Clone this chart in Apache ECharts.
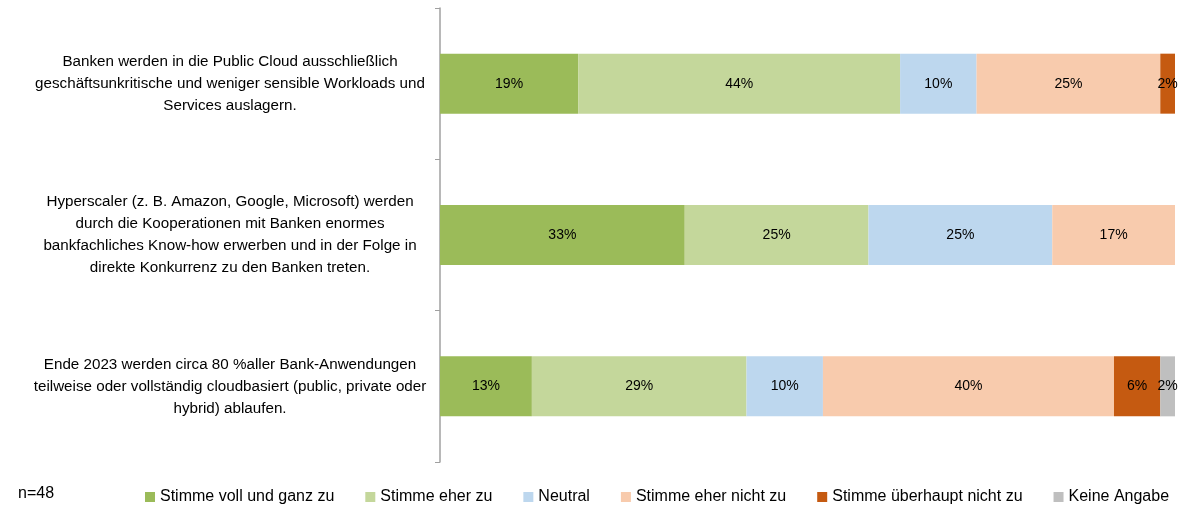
<!DOCTYPE html>
<html>
<head>
<meta charset="utf-8">
<script src="https://cdn.jsdelivr.net/npm/echarts@6/dist/echarts.min.js"></script>
<style>
  html, body { margin: 0; padding: 0; background: #fff; }
  #chart { width: 1184px; height: 506px; }
</style>
</head>
<body>
<div id="chart"></div>
<script>
const categories = [
  'Banken werden in die Public Cloud ausschließlich\ngeschäftsunkritische und weniger sensible Workloads und\nServices auslagern.',
  'Hyperscaler (z. B. Amazon, Google, Microsoft) werden\ndurch die Kooperationen mit Banken enormes\nbankfachliches Know-how erwerben und in der Folge in\ndirekte Konkurrenz zu den Banken treten.',
  'Ende 2023 werden circa 80 %aller Bank-Anwendungen\nteilweise oder vollständig cloudbasiert (public, private oder\nhybrid) ablaufen.'
];

const seriesNames = [
  'Stimme voll und ganz zu',
  'Stimme eher zu',
  'Neutral',
  'Stimme eher nicht zu',
  'Stimme überhaupt nicht zu',
  'Keine Angabe'
];

// Anteile in %, je Aussage (n=48)
const vollUndGanz = [18.8, 33.3, 12.5];
const eherZu = [43.8, 25.0, 29.2];
const neutral = [10.4, 25.0, 10.4];
const eherNicht = [25.0, 16.7, 39.6];
const ueberhauptNicht = [2.1, 0, 6.3];
const keineAngabe = [0, 0, 2.1];

const colors = ['#9BBB59', '#C4D79B', '#BDD7EE', '#F8CBAD', '#C55A11', '#BFBFBF'];
const values = [vollUndGanz, eherZu, neutral, eherNicht, ueberhauptNicht, keineAngabe];

const font = 'Liberation Sans, Arial, sans-serif';

const chart = echarts.init(document.getElementById('chart'));

const option = {
  animation: false,
  color: colors,
  grid: { left: 440, right: 9, top: 8, bottom: 44, outerBoundsMode: 'none' },
  legend: {
    left: 140,
    top: 484,
    itemWidth: 10,
    itemHeight: 10,
    itemGap: 31,
    icon: 'rect',
    textStyle: { fontFamily: font, fontSize: 16, color: '#000' },
    data: seriesNames
  },
  graphic: [{
    type: 'text',
    left: 18,
    top: 486,
    style: { text: 'n=48', fontFamily: font, fontSize: 16, fill: '#000' }
  }],
  xAxis: {
    type: 'value',
    min: 0,
    max: 100,
    show: false
  },
  yAxis: {
    type: 'category',
    inverse: true,
    data: categories,
    axisLine: { lineStyle: { color: '#A0A0A0', width: 1.5 } },
    axisTick: { show: true, length: 5, lineStyle: { color: '#A0A0A0' } },
    axisLabel: {
      align: 'center',
      margin: 210,
      lineHeight: 22,
      fontFamily: font,
      fontSize: 15.2,
      color: '#000'
    }
  },
  series: values.map((v, i) => ({
    name: seriesNames[i],
    type: 'bar',
    stack: 'total',
    barWidth: 60,
    data: v.map(x => x === 0 ? null : x),
    label: {
      show: true,
      position: 'inside',
      fontFamily: font,
      fontSize: 14,
      color: '#000',
      formatter: p => Math.round(p.value) + '%'
    }
  }))
};

chart.setOption(option);
</script>
</body>
</html>
